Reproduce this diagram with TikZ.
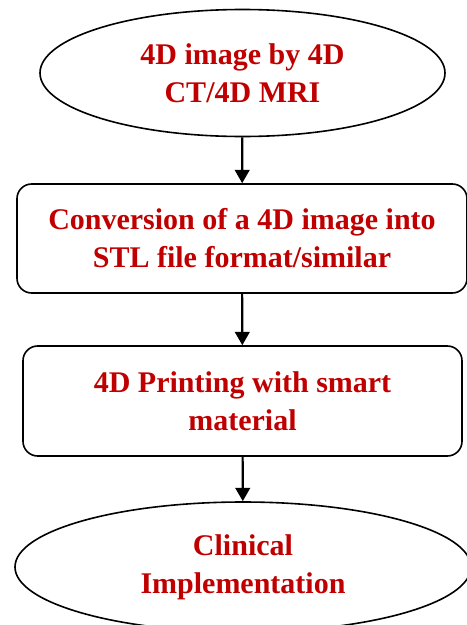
\documentclass[tikz,border=0pt]{standalone}
\usepackage{fontspec}
\setmainfont{Liberation Serif}
\usetikzlibrary{arrows.meta, shapes.geometric, positioning}
\definecolor{StepRed}{RGB}{192,0,0}

\begin{document}
\begin{tikzpicture}[x=0.75pt,y=-0.75pt,
        txt/.style={text=StepRed,font=\bfseries\fontsize{22.5}{28.5}\selectfont,align=center},
        oval/.style={ellipse,draw=black,line width=1.2pt,txt,inner sep=0pt},
        stepbox/.style={rectangle,rounded corners=11pt,draw=black,line width=1.2pt,txt,inner sep=0pt},
        arr/.style={draw=black,line width=1.6pt,-{Triangle[length=10pt,width=11pt]}}
      ]
        \useasboundingbox (0,0) rectangle (467,625);
        \node[oval,minimum width=303.75pt,minimum height=95.25pt] (img) at (242.5,73) {4D image by 4D\\CT/4D MRI};
        \node[stepbox,minimum width=337.5pt,minimum height=81.75pt] (stl) at (242,238.5) {Conversion of a 4D image into\\STL file format/similar};
        \node[stepbox,minimum width=329.25pt,minimum height=82.5pt] (prt) at (242.5,401) {4D Printing with smart\\material};
        \node[oval,minimum width=342pt,minimum height=97.5pt] (clin) at (243,567) {Clinical\\Implementation};
        \draw[arr] (img)--(stl);
        \draw[arr] (stl)--(prt);
        \draw[arr] (prt)--(clin);
      \end{tikzpicture}
\end{document}
